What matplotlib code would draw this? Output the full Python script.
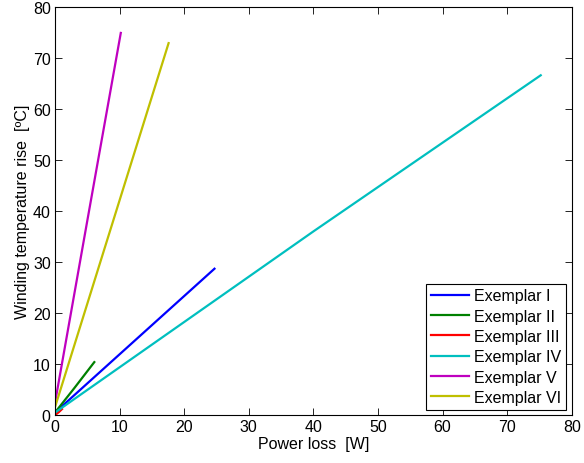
import matplotlib
matplotlib.use("Agg")
import matplotlib.pyplot as plt

plt.rcParams['font.family'] = ['Liberation Sans', 'DejaVu Sans']

labels = ["Exemplar I", "Exemplar II", "Exemplar III", "Exemplar IV", "Exemplar V", "Exemplar VI"]
colors = ["#0000ff", "#008000", "#ff0000", "#00bfbf", "#bf00bf", "#bfbf00"]

x_I = [0.0, 12.0, 24.7]
y_I = [0.5, 14.2, 28.7]
x_II = [0.0, 3.0, 6.1]
y_II = [0.5, 5.3, 10.4]
x_III = [0.0, 0.6, 1.1]
y_III = [0.0, 0.6, 1.2]
x_IV = [0.0, 40.0, 75.2]
y_IV = [0.5, 36.0, 66.6]
x_V = [0.0, 5.0, 10.2]
y_V = [2.3, 38.0, 74.9]
x_VI = [0.0, 9.0, 17.6]
y_VI = [1.5, 38.0, 72.9]

xs = [x_I, x_II, x_III, x_IV, x_V, x_VI]
ys = [y_I, y_II, y_III, y_IV, y_V, y_VI]

fig = plt.figure(figsize=(5.84, 4.64), dpi=100)
ax = fig.add_axes([0.094, 0.103, 0.885, 0.880])
for x, y, c, l in zip(xs, ys, colors, labels):
    ax.plot(x, y, color=c, lw=1.6, label=l)

ax.set_xlim(0, 80)
ax.set_ylim(0, 80)
ax.set_xticks(range(0, 81, 10))
ax.set_yticks(range(0, 81, 10))
ax.tick_params(direction='in', top=True, right=True, labelsize=11.5, length=5, width=0.6, pad=3)
for s in ax.spines.values():
    s.set_linewidth(0.8)
ax.set_xlabel("Power loss  [W]", fontsize=11.5, labelpad=1)
ax.set_ylabel("Winding temperature rise  [ºC]", fontsize=11.5, labelpad=2)

leg = ax.legend(loc='lower right', fontsize=11.5, frameon=True, fancybox=False,
                edgecolor='black', framealpha=1, borderaxespad=0.35,
                handlelength=2.4, handletextpad=0.3, labelspacing=0.33,
                borderpad=0.3)
leg.get_frame().set_linewidth(0.8)

fig.savefig("out.png", dpi=100)
